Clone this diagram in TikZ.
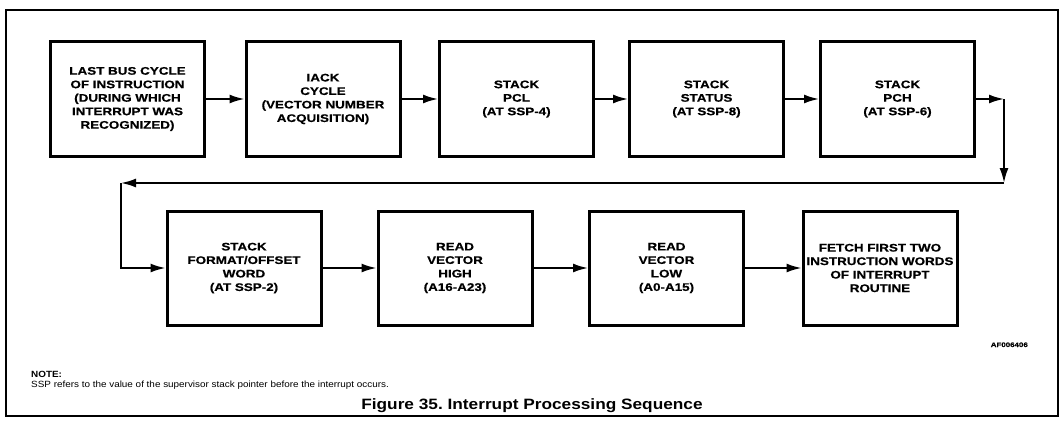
\documentclass[tikz,border=0pt]{standalone}
\usepackage{fontspec}
\setmainfont{Liberation Sans}
\newfontfamily\boxfont{Liberation Sans}[FakeStretch=1.22, FakeBold=0.6]
\newfontfamily\capfont{Liberation Sans}[FakeStretch=1.15]
\newfontfamily\notefont{Liberation Sans}[FakeStretch=1.1]
\usetikzlibrary{arrows.meta}
\begin{document}
\begin{tikzpicture}[x=1pt,y=-1pt,
  blk/.style={draw, line width=3pt, minimum width=154pt, minimum height=114pt,
    inner sep=0pt, align=center,
    font=\boxfont\bfseries\fontsize{11}{13.5}\selectfont},
  arr/.style={line width=2pt, -{Latex[length=15pt,width=9pt]}},
  frame/.style={line width=1.5pt}]
\useasboundingbox (0,0) rectangle (1062,420);
\draw[frame] (6,10) rectangle (1058,416);
% row 1
\node[blk] (b1) at (127.5,99) {LAST BUS CYCLE\\OF INSTRUCTION\\(DURING WHICH\\INTERRUPT WAS\\RECOGNIZED)};
\node[blk] (b2) at (323,99) {IACK\\CYCLE\\(VECTOR NUMBER\\ACQUISITION)};
\node[blk] (b3) at (516.5,99) {STACK\\PCL\\(AT SSP-4)};
\node[blk] (b4) at (706.5,99) {STACK\\STATUS\\(AT SSP-8)};
\node[blk] (b5) at (897.5,99) {STACK\\PCH\\(AT SSP-6)};
% row 2
\node[blk] (b6) at (244,268) {STACK\\FORMAT/OFFSET\\WORD\\(AT SSP-2)};
\node[blk] (b7) at (455,268) {READ\\VECTOR\\HIGH\\(A16-A23)};
\node[blk] (b8) at (666.5,268) {READ\\VECTOR\\LOW\\(A0-A15)};
\node[blk] (b9) at (880,268) {FETCH FIRST TWO\\INSTRUCTION WORDS\\OF INTERRUPT\\ROUTINE};
% connectors
\draw[arr] (b1) -- (b2);
\draw[arr] (b2) -- (b3);
\draw[arr] (b3) -- (b4);
\draw[arr] (b4) -- (b5);
\coordinate (c1) at (1004,99);
\coordinate (c2) at (1004,183);
\coordinate (c3) at (121,183);
\coordinate (c4) at (121,268);
\draw[arr] (b5) -- (c1);
\draw[arr] (c1) -- (c2);
\draw[arr] (c2) -- (c3);
\draw[arr] (c3) -- (c4) -- (b6);
\draw[arr] (b6) -- (b7);
\draw[arr] (b7) -- (b8);
\draw[arr] (b8) -- (b9);
% labels
\node[anchor=base east, inner sep=0pt, font=\boxfont\bfseries\fontsize{6.5}{8}\selectfont] (af) at (1028,347) {AF006406};
\node[anchor=base west, inner sep=0pt, font=\notefont\bfseries\fontsize{9}{10}\selectfont] (note) at (31,377) {NOTE:};
\node[anchor=base west, inner sep=0pt, font=\notefont\fontsize{9}{10}\selectfont] (ssp) at (31,387) {SSP refers to the value of the supervisor stack pointer before the interrupt occurs.};
\node[anchor=base, inner sep=0pt, font=\capfont\bfseries\fontsize{15}{18}\selectfont] (cap) at (532,409) {Figure 35.\ Interrupt Processing Sequence};
\end{tikzpicture}
\end{document}
